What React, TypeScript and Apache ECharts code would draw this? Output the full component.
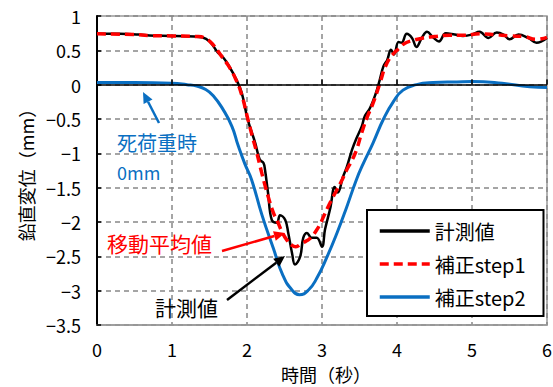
import React, { useEffect, useRef } from "react";
import * as echarts from "echarts";

// 計測値 (measured)
const measuredT = [0, 0.3, 0.55, 0.7, 1.0, 1.3, 1.4, 1.5, 1.61, 1.68, 1.75, 1.86, 1.93, 2.01, 2.11, 2.17, 2.22, 2.24, 2.28, 2.33, 2.4, 2.44, 2.51, 2.55, 2.6, 2.64, 2.71, 2.75, 2.8, 2.86, 2.93, 3.0, 3.04, 3.11, 3.17, 3.21, 3.28, 3.33, 3.4, 3.46, 3.53, 3.57, 3.64, 3.71, 3.77, 3.82, 3.87, 3.92, 3.96, 4.02, 4.06, 4.13, 4.2, 4.26, 4.33, 4.4, 4.48, 4.56, 4.65, 4.77, 4.88, 5.0, 5.1, 5.22, 5.33, 5.42, 5.5, 5.62, 5.75, 5.86, 6.0];
const measuredV = [0.74, 0.74, 0.73, 0.715, 0.71, 0.7, 0.69, 0.63, 0.47, 0.4, 0.29, 0.07, -0.12, -0.51, -0.85, -1.09, -1.14, -1.24, -1.57, -1.97, -2.01, -1.9, -1.97, -2.16, -2.45, -2.62, -2.5, -2.23, -2.16, -2.23, -2.23, -2.36, -2.11, -1.8, -1.49, -1.57, -1.34, -1.2, -0.95, -0.78, -0.61, -0.46, -0.34, -0.15, 0.07, 0.27, 0.36, 0.51, 0.44, 0.62, 0.61, 0.74, 0.68, 0.55, 0.68, 0.77, 0.69, 0.63, 0.75, 0.73, 0.71, 0.73, 0.77, 0.68, 0.76, 0.73, 0.66, 0.73, 0.68, 0.61, 0.68];

// 補正step1 (moving average)
const step1T = [0, 0.5, 0.7, 1.0, 1.35, 1.45, 1.55, 1.65, 1.75, 1.85, 1.93, 2.0, 2.07, 2.13, 2.2, 2.28, 2.35, 2.41, 2.47, 2.53, 2.6, 2.65, 2.72, 2.8, 2.86, 2.92, 2.97, 3.03, 3.08, 3.15, 3.2, 3.27, 3.33, 3.4, 3.46, 3.53, 3.6, 3.67, 3.73, 3.78, 3.84, 3.9, 3.96, 4.03, 4.1, 4.2, 4.35, 4.5, 4.7, 4.9, 5.1, 5.3, 5.5, 5.7, 5.85, 6.0];
const step1V = [0.74, 0.73, 0.715, 0.71, 0.7, 0.67, 0.58, 0.43, 0.28, 0.08, -0.15, -0.45, -0.75, -0.99, -1.3, -1.62, -1.86, -2.0, -2.15, -2.26, -2.34, -2.36, -2.32, -2.27, -2.22, -2.13, -2.04, -1.9, -1.78, -1.63, -1.53, -1.38, -1.24, -1.1, -0.95, -0.7, -0.48, -0.3, -0.12, 0.05, 0.25, 0.38, 0.46, 0.53, 0.6, 0.64, 0.68, 0.7, 0.72, 0.72, 0.74, 0.73, 0.71, 0.7, 0.66, 0.69];

// 補正step2
const step2T = [0, 0.5, 1.0, 1.2, 1.33, 1.45, 1.55, 1.68, 1.8, 1.88, 1.97, 2.06, 2.2, 2.35, 2.48, 2.6, 2.7, 2.82, 2.93, 3.07, 3.2, 3.33, 3.46, 3.55, 3.68, 3.82, 3.95, 4.08, 4.26, 4.48, 4.8, 5.0, 5.4, 5.77, 6.0];
const step2V = [0.03, 0.03, 0.02, 0.0, -0.02, -0.07, -0.16, -0.36, -0.61, -0.88, -1.15, -1.38, -1.9, -2.38, -2.78, -2.99, -3.06, -2.99, -2.82, -2.5, -2.16, -1.78, -1.38, -1.15, -0.85, -0.5, -0.25, -0.08, 0.0, 0.03, 0.04, 0.045, 0.02, -0.03, -0.04];

const seriesNames = ["計測値", "補正step1", "補正step2"];
const xTicks = { min: 0, max: 6, step: 1 };
const yTicks = { min: -3.5, max: 1, step: 0.5 };
const zeroLineTicks = [1, 2, 3, 4, 5, 6];

const zip = (t: number[], v: number[]) => t.map((x, i) => [x, v[i]]);

const FONT = '"Noto Sans CJK JP", "Noto Sans", sans-serif';
const BLUE = "#0a6fc2";
const RED = "#ff0000";

function arrow(x1: number, y1: number, x2: number, y2: number, color: string) {
  const dx = x2 - x1;
  const dy = y2 - y1;
  const L = Math.hypot(dx, dy);
  const ux = dx / L;
  const uy = dy / L;
  const hl = 11;
  const hw = 5;
  const bx = x2 - ux * hl;
  const by = y2 - uy * hl;
  return [
    { type: "line", z: 100, shape: { x1, y1, x2: bx, y2: by }, style: { stroke: color, lineWidth: 2.5 } },
    {
      type: "polygon",
      z: 100,
      shape: { points: [[x2, y2], [bx - uy * hw, by + ux * hw], [bx + uy * hw, by - ux * hw]] },
      style: { fill: color },
    },
  ];
}

function label(text: string, x: number, y: number, color: string, size: number) {
  return {
    type: "text",
    z: 100,
    x,
    y,
    style: { text, fill: color, font: `${size}px ${FONT}`, verticalAlign: "middle", align: "left" },
  };
}

export default function App() {
  const ref = useRef<HTMLDivElement>(null);
  useEffect(() => {
    if (!ref.current) return;
    const chart = echarts.init(ref.current, null, { renderer: "svg" });
    const gridLine = { show: true, lineStyle: { color: "#888", width: 1.5, type: [5, 4] as any } };
    chart.setOption({
      animation: false,
      backgroundColor: "#fff",
      grid: {
        left: 97,
        right: 6,
        top: 16,
        bottom: 62,
        containLabel: false,
        outerBoundsMode: "none",
        show: true,
        borderColor: "#999",
        borderWidth: 1.5,
        backgroundColor: "transparent",
      },
      xAxis: {
        type: "value",
        min: xTicks.min,
        max: xTicks.max,
        interval: xTicks.step,
        name: "時間（秒）",
        nameLocation: "middle",
        nameGap: 40,
        nameTextStyle: { fontSize: 18, color: "#000", fontFamily: FONT, padding: [0, 0, 0, 8] },
        axisLine: { show: true, onZero: false, lineStyle: { color: "#999", width: 1.5 } },
        axisTick: { show: false },
        axisLabel: { fontSize: 18, color: "#000", fontFamily: FONT, margin: 15 },
        splitLine: gridLine,
      },
      yAxis: {
        type: "value",
        min: yTicks.min,
        max: yTicks.max,
        interval: yTicks.step,
        name: "鉛直変位（mm）",
        nameLocation: "middle",
        nameRotate: 90,
        nameGap: 62,
        nameTextStyle: { fontSize: 18, color: "#000", fontFamily: FONT },
        axisLine: { show: true, lineStyle: { color: "#000", width: 2 } },
        axisTick: { show: true, inside: true, length: 4, lineStyle: { color: "#000", width: 1.5 } },
        axisLabel: {
          fontSize: 18,
          color: "#000",
          fontFamily: FONT,
          margin: 16,
          formatter: (v: number) => String(v).replace("-", "\u2212"),
        },
        splitLine: gridLine,
      },
      legend: {
        orient: "vertical",
        left: 367,
        top: 210,
        data: seriesNames,
        padding: [9, 18, 7, 11],
        itemGap: 9,
        itemWidth: 50,
        itemHeight: 14,
        borderColor: "#000",
        borderWidth: 2,
        backgroundColor: "#fff",
        itemStyle: { opacity: 0 },
        lineStyle: { width: 3.5 },
        textStyle: { fontSize: 20, color: "#000", fontFamily: FONT, lineHeight: 24 },
      },
      series: [
        {
          name: seriesNames[2],
          type: "line",
          data: zip(step2T, step2V),
          smooth: 0.5,
          showSymbol: false,
          symbol: "none",
          lineStyle: { color: BLUE, width: 3 },
          itemStyle: { color: BLUE },
          z: 2,
          markLine: {
            silent: true,
            symbol: "none",
            label: { show: false },
            lineStyle: { color: "#000", width: 1.5, type: "solid" },
            data: [
              { yAxis: 0 },
              ...zeroLineTicks.map((x) => [{ coord: [x, 0] }, { coord: [x, 0.075] }]),
            ],
          },
        },
        {
          name: seriesNames[0],
          type: "line",
          data: zip(measuredT, measuredV),
          smooth: 0.4,
          showSymbol: false,
          symbol: "none",
          lineStyle: { color: "#000", width: 2.5 },
          itemStyle: { color: "#000" },
          z: 3,
        },
        {
          name: seriesNames[1],
          type: "line",
          data: zip(step1T, step1V),
          smooth: 0.5,
          showSymbol: false,
          symbol: "none",
          lineStyle: { color: RED, width: 3.5, type: [9, 5] },
          itemStyle: { color: RED },
          z: 4,
        },
      ],
      graphic: [
        ...arrow(159, 123, 143, 92, BLUE),
        ...arrow(222, 251, 285, 233, RED),
        ...arrow(227, 300, 285, 256, "#000"),
        label("死荷重時", 117, 142, BLUE, 20),
        label("0mm", 117, 172, BLUE, 18),
        label("移動平均値", 107, 243, RED, 21),
        label("計測値", 155, 307, "#000", 21),
      ],
    });
    return () => chart.dispose();
  }, []);
  return <div ref={ref} style={{ position: "fixed", left: 0, top: 0, width: 553, height: 387 }} />;
}
